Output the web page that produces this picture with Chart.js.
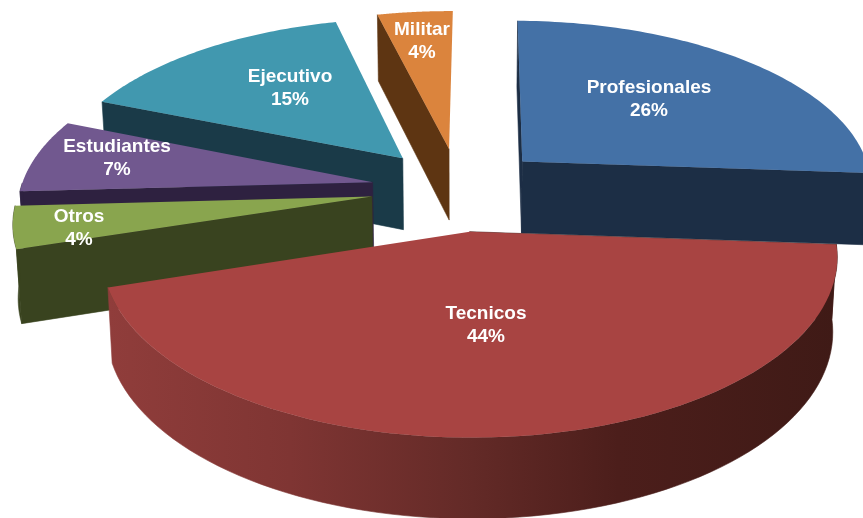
<!DOCTYPE html>
<html>
<head>
<meta charset="utf-8">
<style>
    html, body { margin: 0; padding: 0; background: #fff; }
    #pie { display: block; }
</style>
<script src="https://cdn.jsdelivr.net/npm/chart.js@4"></script>
</head>
<body>
<div style="width:863px;height:518px"><canvas id="pie" width="863" height="518"></canvas></div>
<script>
const categories = ["Profesionales", "Tecnicos", "Otros", "Estudiantes", "Ejecutivo", "Militar"];
const shares = [26, 44, 4, 7, 15, 4];

const topColors = ["#4471a6", "#a84442", "#89a54e", "#71588f", "#4198af", "#db843d"];
const wallColors = ["#1c2e45", "#451b18", "#39431f", "#2e2140", "#1a3a48", "#5e3512"];

// outer rim of the big slice fades from left to right
const rimStops = [[0, "#903d3b"], [0.25, "#7f3533"], [0.5, "#632a27"], [0.7, "#4c1e1b"], [1, "#3f1a16"]];

// where each label block sits, centre of the two lines
const labelCenters = [[649, 99], [486, 325], [79, 228], [117, 158], [290, 88], [422, 41]];

// tilted view of the pie
const TILT = 0.472;
const VIEW_DIST = 2650;
const EXPLODE = 88;
const THICKNESS = 72.4;
const BOTTOM_X = 0.988;
const BOTTOM_Y = 1.035;

function project(arc, x, f, bottom) {
    const w = 1 - f / VIEW_DIST;
    const sx = x / w;
    const sy = TILT * f / w;
    if (bottom) {
        return [arc.x + sx * BOTTOM_X, arc.y + sy * BOTTOM_Y + THICKNESS];
    }
    return [arc.x + sx, arc.y + sy];
}

// apex and rim points of a slice in the plane of the pie
function sliceGeometry(arc) {
    const mid = (arc.startAngle + arc.endAngle) / 2;
    const ox = Math.cos(mid) * EXPLODE;
    const of = Math.sin(mid) * EXPLODE;
    const rim = [];
    const frontRim = [];
    const steps = 80;
    for (let i = 0; i <= steps; i++) {
        const a = arc.startAngle + (arc.endAngle - arc.startAngle) * i / steps;
        const p = [ox + Math.cos(a) * arc.outerRadius, of + Math.sin(a) * arc.outerRadius];
        rim.push(p);
        // only the part of the rim turned towards the viewer gets a wall
        if (Math.sin(a) >= 0) frontRim.push(p);
    }
    return { apex: [ox, of], rim, frontRim };
}

function tracePoly(ctx, pts) {
    ctx.beginPath();
    pts.forEach((p, i) => (i ? ctx.lineTo(p[0], p[1]) : ctx.moveTo(p[0], p[1])));
    ctx.closePath();
}

function fillWall(ctx, pts, color) {
    tracePoly(ctx, pts);
    ctx.fillStyle = color;
    ctx.strokeStyle = color;
    ctx.lineWidth = 0.6;   // hides the seam between neighbouring walls
    ctx.fill();
    ctx.stroke();
}

function drawSlice(ctx, arc, index) {
    const { apex, rim, frontRim } = sliceGeometry(arc);
    const top = p => project(arc, p[0], p[1], false);
    const low = p => project(arc, p[0], p[1], true);
    const wall = wallColors[index];

    // flat side faces, the closing one only when it looks towards the viewer
    const first = rim[0];
    const last = rim[rim.length - 1];
    fillWall(ctx, [top(apex), top(first), low(first), low(apex)], wall);
    if (Math.cos(arc.endAngle) > 0.05) {
        fillWall(ctx, [top(apex), top(last), low(last), low(apex)], wall);
    }

    // curved outer face
    if (frontRim.length > 1) {
        let rimFill = wall;
        if (shares[index] === Math.max(...shares)) {
            const xs = rim.map(p => top(p)[0]);
            rimFill = ctx.createLinearGradient(Math.min(...xs), 0, Math.max(...xs), 0);
            rimStops.forEach(s => rimFill.addColorStop(s[0], s[1]));
        }
        fillWall(ctx, frontRim.map(top).concat(frontRim.slice().reverse().map(low)), rimFill);
    }

    // top face
    tracePoly(ctx, [top(apex)].concat(rim.map(top)));
    ctx.fillStyle = topColors[index];
    ctx.fill();
}

const pie3d = {
    id: "pie3d",
    beforeDatasetDraw(chart, args) {
        const ctx = chart.ctx;
        const arcs = chart.getDatasetMeta(args.index).data;
        // paint from the far side to the near side
        const order = arcs.map((arc, i) => i).sort((a, b) =>
            Math.sin((arcs[a].startAngle + arcs[a].endAngle) / 2) -
            Math.sin((arcs[b].startAngle + arcs[b].endAngle) / 2));
        ctx.save();
        order.forEach(i => drawSlice(ctx, arcs[i], i));
        ctx.restore();
        return false;
    },
    afterDatasetsDraw(chart) {
        const ctx = chart.ctx;
        ctx.save();
        ctx.fillStyle = "#fff";
        ctx.font = "bold 19px 'Liberation Sans', Arial, sans-serif";
        ctx.textAlign = "center";
        ctx.textBaseline = "middle";
        categories.forEach((name, i) => {
            const [x, y] = labelCenters[i];
            ctx.fillText(name, x, y - 11);
            ctx.fillText(shares[i] + "%", x, y + 12);
        });
        ctx.restore();
    }
};

new Chart(document.getElementById("pie"), {
    type: "pie",
    data: {
        labels: categories,
        datasets: [{
            data: shares,
            backgroundColor: topColors,
            borderWidth: 0,
            radius: 352
        }]
    },
    options: {
        responsive: false,
        animation: false,
        rotation: 0.5,
        layout: { padding: { left: 55, bottom: 140 } },
        plugins: {
            legend: { display: false },
            tooltip: { enabled: false }
        }
    },
    plugins: [pie3d]
});
</script>
</body>
</html>
